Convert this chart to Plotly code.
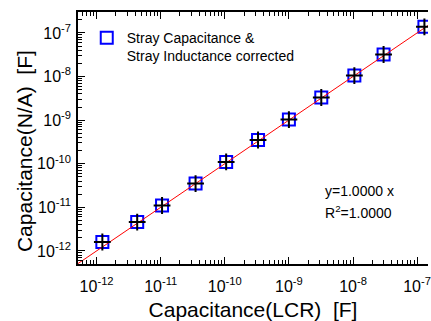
import plotly.graph_objects as go

# Data
cap_lcr = [1.23e-12, 4.3e-12, 1.05e-11, 3.5e-11, 1.05e-10, 3.3e-10, 1.0e-9, 3.2e-9, 1.05e-8, 3.0e-8, 1.3e-7]
cap_na = [1.6e-12, 4.6e-12, 1.1e-11, 3.5e-11, 1.1e-10, 3.5e-10, 1.03e-9, 3.3e-9, 1.05e-8, 3.2e-8, 1.38e-7]
fit_slope = 1.0
fit_x = [4e-13, 2e-7]
fit_y = [fit_slope * v for v in fit_x]
tick_vals = [1e-12, 1e-11, 1e-10, 1e-9, 1e-8, 1e-7]
tick_text = ["10<sup>-12</sup>", "10<sup>-11</sup>", "10<sup>-10</sup>", "10<sup>-9</sup>", "10<sup>-8</sup>", "10<sup>-7</sup>"]

FONT = "Liberation Sans, Arial, sans-serif"

fig = go.Figure()
fig.add_trace(go.Scatter(
    x=cap_lcr, y=cap_na, mode="markers",
    name="Stray Capacitance &<br>Stray Inductance corrected",
    marker=dict(symbol="square-open", size=12, color="#0000ff", line=dict(width=2, color="#0000ff")),
))
fig.add_trace(go.Scatter(
    x=fit_x, y=fit_y, mode="lines", showlegend=False,
    line=dict(color="#ff0000", width=1),
))
fig.add_trace(go.Scatter(
    x=cap_lcr, y=cap_na, mode="markers", showlegend=False,
    marker=dict(symbol="cross-thin-open", size=12, color="black", line=dict(width=2, color="black")),
))

axis_common = dict(
    type="log", tickmode="array", tickvals=tick_vals, ticktext=tick_text,
    ticks="inside", ticklen=7, tickwidth=1, tickcolor="black",
    showline=True, linecolor="black", linewidth=1.5,
    showgrid=False, zeroline=False, ticklabeloverflow="allow",
    tickfont=dict(family=FONT, size=16, color="black"),
    minor=dict(ticks="inside", ticklen=4, tickcolor="black", tickwidth=1, dtick="D1", showgrid=False),
)

fig.update_xaxes(
    **axis_common, range=[-12.29, -6.83], mirror="ticks", ticklabelstandoff=7,
    title=dict(text="Capacitance(LCR)  [F]", font=dict(family=FONT, size=21, color="black"), standoff=10),
)
fig.update_yaxes(
    **axis_common, range=[-12.3, -6.52], ticklabelstandoff=2,
)

# y-axis title placed as in the reference
fig.add_annotation(xref="paper", yref="paper", x=-0.153, y=0.45, xanchor="center", yanchor="middle",
                   text="Capacitance(N/A)  [F]", textangle=-90, showarrow=False,
                   font=dict(family=FONT, size=21, color="black"))

fig.add_annotation(xref="paper", yref="paper", x=0.70, y=0.29, xanchor="left", yanchor="middle",
                   text="y=1.0000 x", showarrow=False, font=dict(family=FONT, size=14, color="black"))
fig.add_annotation(xref="paper", yref="paper", x=0.70, y=0.205, xanchor="left", yanchor="middle",
                   text="R<sup>2</sup>=1.0000", showarrow=False, font=dict(family=FONT, size=14, color="black"))

fig.update_layout(
    width=431, height=321,
    margin=dict(l=78, r=0, t=12, b=57),
    paper_bgcolor="white", plot_bgcolor="white",
    legend=dict(x=0.025, y=0.96, xanchor="left", yanchor="top", valign="top",
                bgcolor="rgba(0,0,0,0)", font=dict(family=FONT, size=14, color="black"),
                itemwidth=30, tracegroupgap=0),
)

fig.write_html("out.html")
